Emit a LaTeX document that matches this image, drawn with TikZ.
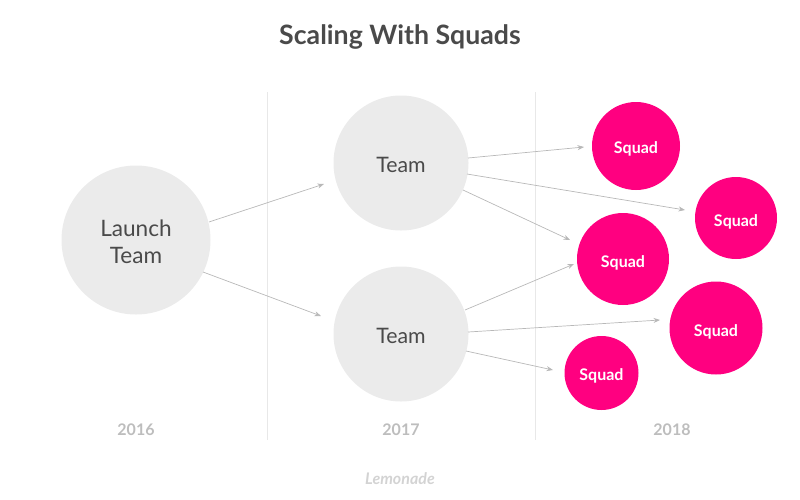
\documentclass[tikz,border=0pt]{standalone}
\usepackage{fontspec}
\setmainfont{Lato}
\usetikzlibrary{arrows.meta}
\definecolor{grayc}{HTML}{EBEBEB}
\definecolor{pinkc}{HTML}{FF0080}
\definecolor{txt}{HTML}{4A4A4A}
\definecolor{yr}{HTML}{BDBDBD}
\definecolor{ln}{HTML}{B8B8B8}
\definecolor{sep}{HTML}{E8E8E8}
\newcommand{\lowr}[2][4pt]{\raisebox{0pt}[\dimexpr\height+#1\relax]{#2}}
\begin{document}
\begin{tikzpicture}[x=1pt,y=-1pt,
 team/.style={circle,fill=grayc,inner sep=0pt,text=txt,align=center},
 squad/.style={circle,fill=pinkc,inner sep=0pt,text=white,font=\fontsize{16}{18}\selectfont\bfseries},
 arr/.style={draw=ln,line width=0.7pt,-{Stealth[length=6.5pt,width=5pt]}},
 year/.style={text=yr,font=\fontsize{16}{18}\selectfont\bfseries},
 sepl/.style={draw=sep,line width=1pt}]
\useasboundingbox (0,0) rectangle (800,499);
\node[text=txt,font=\fontsize{26.7}{30}\selectfont\bfseries] (title) at (400,37) {Scaling With Squads};
\coordinate (s1a) at (267,92); \coordinate (s1b) at (267,440);
\coordinate (s2a) at (535,92); \coordinate (s2b) at (535,440);
\draw[sepl] (s1a)--(s1b); \draw[sepl] (s2a)--(s2b);
\node[team,minimum size=149pt,font=\fontsize{22.6}{27}\selectfont] (L) at (136,240) {\lowr{Launch}\\Team};
\node[team,minimum size=135pt,font=\fontsize{21.3}{24}\selectfont] (T1) at (401,163) {\lowr{Team}};
\node[team,minimum size=135pt,font=\fontsize{21.3}{24}\selectfont] (T2) at (401,334) {\lowr{Team}};
\node[squad,minimum size=88pt] (S1) at (636,146) {\lowr[6pt]{Squad}};
\node[squad,minimum size=82pt] (S2) at (736,218) {\lowr[7pt]{Squad}};
\node[squad,minimum size=92pt] (S3) at (623,259) {\lowr[7pt]{Squad}};
\node[squad,minimum size=93pt] (S4) at (716,328) {\lowr[7pt]{Squad}};
\node[squad,minimum size=74pt] (S5) at (601.5,373) {\lowr[5pt]{Squad}};
\coordinate (e1) at (324,184); \coordinate (e2) at (321,316);
\draw[arr] (209,222)--(e1);
\draw[arr] (203,272)--(e2);
\coordinate (a1) at (468,158); \coordinate (b1) at (584,147);
\coordinate (a2) at (467,174); \coordinate (b2) at (685,210);
\coordinate (a3) at (463,190); \coordinate (b3) at (570,240);
\coordinate (a4) at (465,310); \coordinate (b4) at (574,264);
\coordinate (a5) at (468,332); \coordinate (b5) at (660,320);
\coordinate (a6) at (466,351); \coordinate (b6) at (553,370);
\draw[arr] (a1)--(b1); \draw[arr] (a2)--(b2); \draw[arr] (a3)--(b3);
\draw[arr] (a4)--(b4); \draw[arr] (a5)--(b5); \draw[arr] (a6)--(b6);
\node[year] (y1) at (136,430) {2016};
\node[year] (y2) at (401,430) {2017};
\node[year] (y3) at (672,430) {2018};
\node[text=grayc!90!black,font=\fontsize{16}{18}\selectfont\itshape\bfseries] (logo) at (400,479) {Lemonade};
\end{tikzpicture}
\end{document}
